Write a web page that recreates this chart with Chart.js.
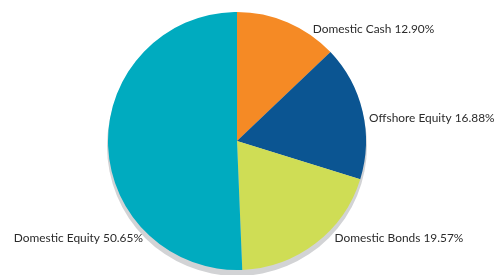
<!DOCTYPE html>
<html>
<head>
<meta charset="utf-8">
<script src="https://cdn.jsdelivr.net/npm/chart.js@4"></script>
<style>
  html, body { margin: 0; padding: 0; background: #fff; }
  #wrap { width: 499px; height: 275px; }
</style>
</head>
<body>
<div id="wrap"><canvas id="pie"></canvas></div>
<script>
const categories = ['Domestic Cash', 'Offshore Equity', 'Domestic Bonds', 'Domestic Equity'];
const shares = [12.90, 16.88, 19.57, 50.65];
const colours = ['#f58a25', '#0b5592', '#cfdd55', '#00abbf'];

// where each label sits: angle from 12 o'clock (deg), distance as a share of radius
const labelSpots = [
  { angle: 34, dist: 1.05, align: 'left' },
  { angle: 80, dist: 1.04, align: 'left' },
  { angle: 135, dist: 1.07, align: 'left' },
  { angle: 224, dist: 1.05, align: 'right' }
];

const shadow = {
  id: 'shadow',
  beforeDatasetsDraw(chart) {
    const arc = chart.getDatasetMeta(0).data[0];
    const c = chart.ctx;
    c.save();
    c.fillStyle = '#d2d3d5';
    c.beginPath();
    c.arc(arc.x, arc.y + 5, arc.outerRadius + 1, 0, Math.PI * 2);
    c.fill();
    c.restore();
  }
};

const labels = {
  id: 'labels',
  afterDatasetsDraw(chart) {
    const arc = chart.getDatasetMeta(0).data[0];
    const c = chart.ctx;
    c.save();
    c.font = '11.9px Lato, sans-serif';
    c.fillStyle = '#2b2b2b';
    c.textBaseline = 'middle';
    categories.forEach((name, i) => {
      const s = labelSpots[i];
      const a = s.angle * Math.PI / 180;
      const x = arc.x + Math.sin(a) * arc.outerRadius * s.dist;
      const y = arc.y - Math.cos(a) * arc.outerRadius * s.dist;
      c.textAlign = s.align;
      c.fillText(name + ' ' + shares[i].toFixed(2) + '%', x, y);
    });
    c.restore();
  }
};

new Chart(document.getElementById('pie'), {
  type: 'pie',
  data: {
    labels: categories,
    datasets: [{
      data: shares,
      backgroundColor: colours,
      borderWidth: 0
    }]
  },
  options: {
    responsive: true,
    maintainAspectRatio: false,
    animation: false,
    layout: { padding: { top: 12, bottom: 5, left: 0, right: 25 } },
    plugins: {
      legend: { display: false },
      tooltip: { enabled: false }
    }
  },
  plugins: [shadow, labels]
});
</script>
</body>
</html>
